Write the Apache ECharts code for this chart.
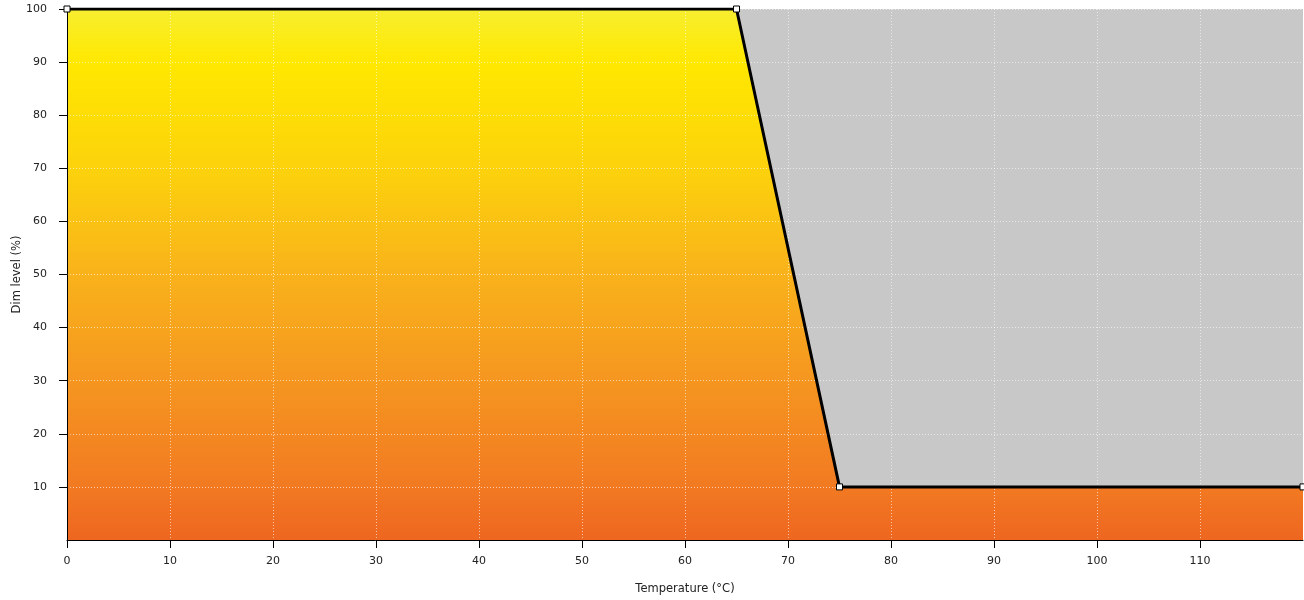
<!DOCTYPE html>
<html><head><meta charset="utf-8">
<script src="https://cdn.jsdelivr.net/npm/echarts@6/dist/echarts.min.js"></script>
<style>html,body{margin:0;padding:0;background:#fff}#c{width:1304px;height:600px}</style>
</head><body><div id="c"></div>
<script>
const temps = [0, 65, 75, 120];
const levels = [100, 100, 10, 10];
const xTitle = 'Temperature (°C)';
const yTitle = 'Dim level (%)';

const chart = echarts.init(document.getElementById('c'));
const font = 'DejaVu Sans';
const pts = temps.map((t, i) => [t, levels[i]]);
chart.setOption({
  animation: false,
  grid: { left: 67, right: 1, top: 9, bottom: 60, containLabel: false, outerBoundsMode: 'none', show: true, backgroundColor: '#c8c8c8', borderWidth: 0 },
  xAxis: {
    type: 'value', min: 0, max: 120, interval: 10, z: 5,
    name: xTitle, nameLocation: 'middle', nameGap: 43, nameMoveOverlap: false,
    nameTextStyle: { fontFamily: font, fontSize: 11.5, color: '#222' },
    axisLine: { show: true, onZero: false, lineStyle: { color: '#000', width: 1 } },
    axisTick: { show: true, length: 8, lineStyle: { color: '#000' } },
    axisLabel: { fontFamily: font, fontSize: 11, color: '#222', margin: 16, showMaxLabel: false },
    splitLine: { show: true, lineStyle: { color: 'rgba(255,255,255,0.6)', type: [1, 2], width: 1 } }
  },
  yAxis: {
    type: 'value', min: 0, max: 100, interval: 10, z: 5,
    name: yTitle, nameLocation: 'middle', nameGap: 44, nameMoveOverlap: false,
    nameTextStyle: { fontFamily: font, fontSize: 11.5, color: '#222' },
    axisLine: { show: true, lineStyle: { color: '#000', width: 1 } },
    axisTick: { show: true, length: 8, lineStyle: { color: '#000' } },
    axisLabel: { fontFamily: font, fontSize: 11, color: '#222', margin: 20, showMinLabel: false },
    splitLine: { show: true, lineStyle: { color: 'rgba(255,255,255,0.6)', type: [1, 2], width: 1 } }
  },
  series: [{
    type: 'line', z: 2,
    data: pts,
    symbol: 'none', silent: true,
    lineStyle: { width: 0, opacity: 0 },
    areaStyle: {
      opacity: 1,
      color: new echarts.graphic.LinearGradient(0, 0, 0, 1, [
        { offset: 0, color: '#f7ee30' },
        { offset: 0.1, color: '#ffe800' },
        { offset: 0.3, color: '#fcd20c' },
        { offset: 0.5, color: '#f9b21b' },
        { offset: 0.7, color: '#f59620' },
        { offset: 0.9, color: '#f27a22' },
        { offset: 1, color: '#ee6620' }
      ])
    }
  }, {
    type: 'line', z: 8,
    data: pts,
    symbol: 'rect', symbolSize: 6, showAllSymbol: true,
    itemStyle: { color: '#fff', borderColor: '#000', borderWidth: 1 },
    lineStyle: { color: '#000', width: 3 }
  }]
});
</script></body></html>
